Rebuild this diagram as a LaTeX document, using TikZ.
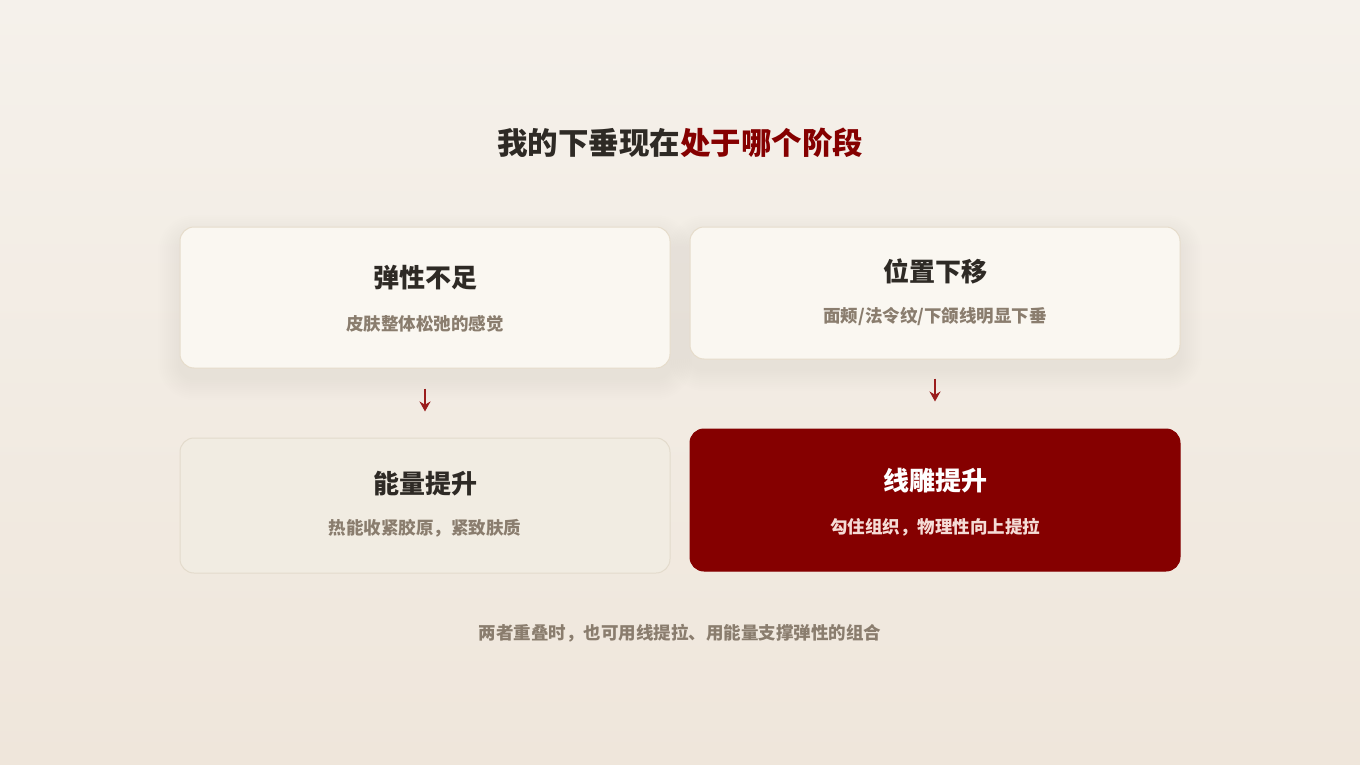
\documentclass[tikz,border=0pt]{standalone}
\usepackage{fontspec}
\setmainfont{Noto Sans CJK SC}
\usetikzlibrary{arrows.meta}
\definecolor{bgtop}{HTML}{F5F1EB}
\definecolor{bgbot}{HTML}{EFE6DB}
\definecolor{cardfill}{HTML}{FAF7F1}
\definecolor{cardline}{HTML}{E6DCCB}
\definecolor{softfill}{HTML}{F1ECE2}
\definecolor{softline}{HTML}{E3DBCC}
\definecolor{darkred}{HTML}{850000}
\definecolor{arrowred}{HTML}{9A1C1C}
\definecolor{ink}{HTML}{2E2A25}
\definecolor{muted}{HTML}{8A7D6E}
\definecolor{pinkish}{HTML}{F5DCD6}
\tikzset{
  card/.style={rounded corners=14pt, minimum width=490pt, inner sep=0pt, line width=1pt},
  lightcard/.style={card, fill=cardfill, draw=cardline},
  softcard/.style={card, fill=softfill, draw=softline},
  redcard/.style={card, fill=darkred, draw=darkred},
  cardtitle/.style={font=\fontsize{26pt}{30pt}\selectfont\bfseries, text=ink, inner sep=0pt},
  cardsub/.style={font=\fontsize{17.5pt}{21pt}\selectfont\bfseries, text=muted, inner sep=0pt},
  arr/.style={draw=arrowred, line width=2pt, -{Stealth[length=10pt,width=11pt]}},
}
\begin{document}
\begin{tikzpicture}[x=1pt,y=-1pt]
\shade[top color=bgtop, bottom color=bgbot] (0,0) rectangle (1360,765);
\useasboundingbox (0,0) rectangle (1360,765);
% soft shadows
\foreach \s in {2,4,...,22}{
  \fill[black, opacity=0.0055, rounded corners=14pt+\s] (180-\s,227-\s+10) rectangle (670+\s,368+\s+10);
  \fill[black, opacity=0.0055, rounded corners=14pt+\s] (690-\s,227-\s+10) rectangle (1180+\s,359+\s+10);
}
\node[lightcard, minimum height=141pt] (b1) at (425,297.5) {};
\node[lightcard, minimum height=132pt] (b2) at (935,293) {};
\node[softcard, minimum height=135pt] (b3) at (425,505.5) {};
\node[redcard, minimum height=142pt] (b4) at (935,500) {};

\node[font=\fontsize{30.5pt}{36pt}\selectfont\bfseries, text=ink, inner sep=0pt] (title) at (680,143) {我的下垂现在\textcolor{darkred}{处于哪个阶段}};

\node[cardtitle] (t1) at (425,278) {弹性不足};
\node[cardsub] (s1) at (425,324) {皮肤整体松弛的感觉};
\node[cardtitle] (t2) at (935,271) {位置下移};
\node[cardsub] (s2) at (935,316) {面颊/法令纹/下颌线明显下垂};
\node[cardtitle] (t3) at (425,484) {能量提升};
\node[cardsub] (s3) at (425,528) {热能收紧胶原，紧致肤质};
\node[cardtitle, text=white] (t4) at (935,481) {线雕提升};
\node[cardsub, text=pinkish] (s4) at (935,527) {勾住组织，物理性向上提拉};

\draw[arr, shorten <=20pt, shorten >=26pt] (b1) -- (b3);
\draw[arr, shorten <=19pt, shorten >=27pt] (b2) -- (b4);

\node[cardsub] (note) at (680,633) {两者重叠时，也可用线提拉、用能量支撑弹性的组合};
\end{tikzpicture}
\end{document}
